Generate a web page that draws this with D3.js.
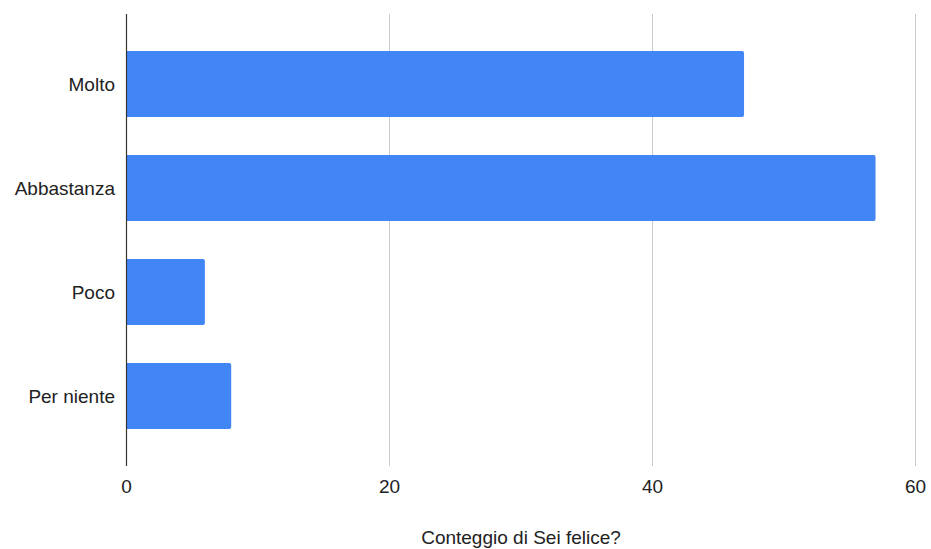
<!DOCTYPE html>
<html><head><meta charset="utf-8">
<script src="https://cdn.jsdelivr.net/npm/d3@7"></script>
<style>body{margin:0;background:#fff;} svg{display:block;font-family:"Liberation Sans",Arial,sans-serif;}</style>
</head><body>
<script>
const categories = ["Molto", "Abbastanza", "Poco", "Per niente"];
const values = [47, 57, 6, 8];
const tickValues = [0, 20, 40, 60];
const axisTitle = "Conteggio di Sei felice?";

const W = 931, H = 549;
const FS = 19;
const svg = d3.select("body").append("svg").attr("width", W).attr("height", H);
const x = d3.scaleLinear().domain([0, 60]).range([126, 915]);
const y = d3.scaleBand().domain(categories).range([14, 466]).paddingInner(0.365).paddingOuter(0.356);

// gridlines
svg.append("g").selectAll("line").data(tickValues.filter(d => d !== 0)).join("line")
  .attr("x1", d => x(d) + 0.5).attr("x2", d => x(d) + 0.5)
  .attr("y1", 14).attr("y2", 466).attr("stroke", "#cccccc").attr("stroke-width", 1);

// bars with rounded right end
svg.append("g").selectAll("path").data(categories).join("path")
  .attr("fill", "#4285f4")
  .attr("d", (c, i) => {
    const x0 = x(0), x1 = x(values[i]), y0 = y(c), h = y.bandwidth(), r = 2;
    return `M${x0},${y0}H${x1 - r}Q${x1},${y0} ${x1},${y0 + r}V${y0 + h - r}Q${x1},${y0 + h} ${x1 - r},${y0 + h}H${x0}Z`;
  });

// zero axis line
svg.append("line").attr("x1", x(0) + 0.5).attr("x2", x(0) + 0.5).attr("y1", 14).attr("y2", 466)
  .attr("stroke", "#333333").attr("stroke-width", 1.2);

// x tick labels
const xAxis = d3.axisBottom(x).tickValues(tickValues).tickSize(0).tickPadding(0);
const gx = svg.append("g").attr("transform", "translate(0,493)").call(xAxis);
gx.select(".domain").remove();
gx.selectAll("text").attr("dy", 0).attr("font-size", FS).attr("fill", "#222").attr("font-family", '"Liberation Sans",Arial,sans-serif');

// y labels
const yAxis = d3.axisLeft(y).tickSize(0).tickPadding(0);
const gy = svg.append("g").attr("transform", "translate(115,0)").call(yAxis);
gy.select(".domain").remove();
gy.selectAll("text").attr("dy", "0.35em").attr("font-size", FS).attr("fill", "#222").attr("font-family", '"Liberation Sans",Arial,sans-serif');

// axis title
svg.append("text").attr("x", 521).attr("y", 544).attr("text-anchor", "middle")
  .attr("font-size", FS).attr("fill", "#222").text(axisTitle);
</script>
</body></html>
